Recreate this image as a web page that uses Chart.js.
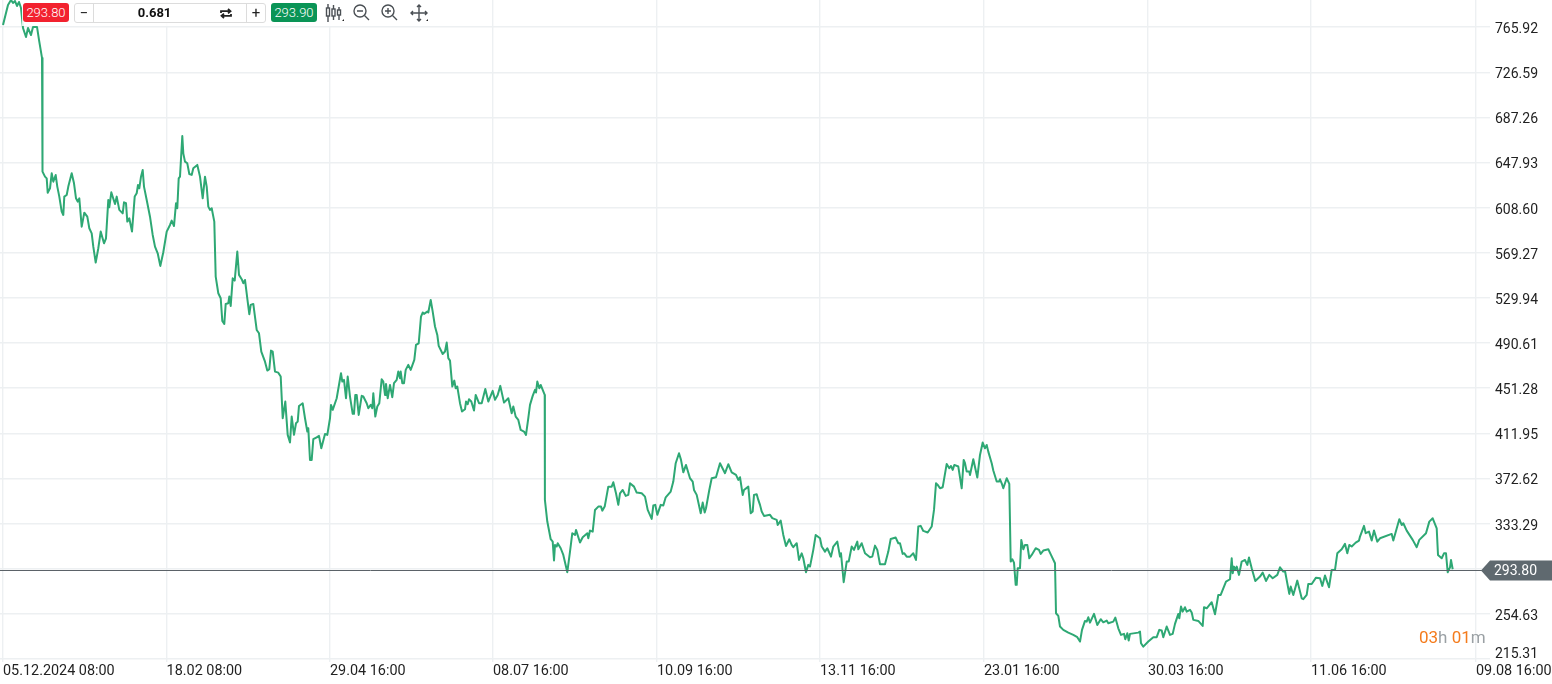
<!DOCTYPE html>
<html><head><meta charset="utf-8">
<script src="https://cdn.jsdelivr.net/npm/chart.js@4/dist/chart.umd.min.js"></script>
<style>
html,body{margin:0;padding:0;background:#fff;font-family:Roboto,sans-serif;overflow:hidden}
#wrap{position:relative;width:1552px;height:684px}
canvas{position:absolute;left:0;top:0}
#bar{position:absolute;left:22px;top:0;width:408px;height:26px;background:rgba(255,255,255,.85)}
.abs{position:absolute}
.btn{top:3px;height:19px;line-height:19px;width:46px;text-align:center;color:#fff;font-size:13px;font-weight:300;border-radius:3px}
#box{left:74px;top:3px;width:190px;height:18px;border:1px solid #dcdcdc;border-radius:3px;background:#fff}
.sep{top:0;width:1px;height:18px;background:#dcdcdc}
#timer{left:1419px;top:627px;font-size:17px;line-height:20px;color:#9aa0a4;white-space:nowrap}
#timer b{font-weight:400;color:#f47b1c}
</style></head><body>
<div id="wrap">
<canvas id="c" width="1552" height="684"></canvas>
<div id="bar" class="abs"></div>
<div class="abs btn" style="left:23px;background:#f2222f">293.80</div>
<div id="box" class="abs">
  <div class="abs sep" style="left:18px"></div>
  <div class="abs sep" style="left:171px"></div>
  <div class="abs" style="left:0;width:18px;top:0;line-height:18px;text-align:center;font-size:15px;color:#222">−</div>
  <div class="abs" style="left:20px;width:119px;top:0;line-height:18px;text-align:center;font-size:13px;font-weight:700;color:#111">0.681</div>
  <div class="abs" style="left:172px;width:18px;top:0;line-height:18px;text-align:center;font-size:15px;color:#222">+</div>
  <svg class="abs" style="left:145px;top:3px" width="12" height="13" viewBox="0 0 12 13" fill="none" stroke="#222" stroke-width="1.8"><path d="M1 6V4.2h9M8 2l2.5 2.2L8 6.4M11 7v1.8H2M4 6.6L1.5 8.8 4 11"/></svg>
</div>
<div class="abs btn" style="left:271px;background:#0a9456">293.90</div>
<svg class="abs" style="left:324px;top:2px" width="110" height="24" viewBox="0 0 110 24" fill="none" stroke="#4a4f54" stroke-width="1.4">
  <path d="M4 2v18M9.5 3v15M15 5v13"/><rect x="2.5" y="6" width="3" height="8" fill="#fff"/><rect x="8" y="7" width="3" height="7" fill="#fff"/><rect x="13.5" y="8" width="3" height="5" fill="#fff"/>
  <path d="M18 19h2v-2z" fill="#222" stroke="none"/>
  <circle cx="36" cy="9" r="6"/><path d="M40.5 13.5l4.5 4.5M33 9h6"/>
  <circle cx="64" cy="9" r="6"/><path d="M68.5 13.5l4.5 4.5M61 9h6M64 6v6"/>
  <path d="M95 3v16M87 11h16M93 5l2-2 2 2M93 17l2 2 2-2M89 9l-2 2 2 2M101 9l2 2-2 2"/>
  <path d="M102 19h2v-2z" fill="#222" stroke="none"/>
</svg>
<div id="timer" class="abs"><b>03</b>h <b>01</b>m</div>
</div>
<script>
const xTickBars = [0,163.6,327,490,654,817,981,1145,1308,1473];
const xTickLabels = ['05.12.2024 08:00','18.02 08:00','29.04 16:00','08.07 16:00','10.09 16:00','13.11 16:00','23.01 16:00','30.03 16:00','11.06 16:00','09.08 16:00'];
const yTicks = [215.31,254.63,293.96,333.29,372.62,411.95,451.28,490.61,529.94,569.27,608.60,647.93,687.26,726.59,765.92];
const lastPrice = 293.80;
const bars = [
0,3,5,8,10,12,14,16,18,20,
23,25,28,30,34,36,39,39.3,39.7,42,
43.7,44.7,47,48.7,50.3,52.7,54.3,56.3,58.7,60.3,
61.3,63.7,65.3,68.7,71,73,74.7,76.3,78.7,81.3,
84.3,86.3,88.7,90.3,92.7,95.3,97.7,101,103,105.3,
106.3,108.3,112,113.7,116.3,119.7,121,123,124.3,126.3,
129,131.7,133.7,135,136.3,138,139.7,141,143.7,147,
149.7,152,154.7,157.3,160.3,163.7,167,168.7,171,173,
174.3,175.7,177,179.3,180.3,182,184.3,186.3,188.7,190.3,
194.3,197,199.7,202,203.7,205.3,207,208.7,211.3,212.7,
215.3,217.7,219.3,221.3,222.7,225.3,226.3,227.7,229.7,231.7,
234.3,236,238.7,240.3,242,244.7,246.3,247.7,250.3,253.7,
256,258.3,262,264.3,266.3,268,269.7,272,275.3,277.7,
279.7,282.3,284.7,287,288.7,291,293,294.7,296,299.7,
302,304.3,305.3,307,308.7,310.3,313.7,316,318.3,322,
324.3,327,328,329.7,333.7,338,339.3,341,343,344.7,
347,349.7,351,352.3,353.7,355.7,358.7,360.3,363.7,365.3,
367.7,369.3,370.3,372.3,374.3,376.3,378.7,380.3,382,383,
384.7,387,389.3,391,393.7,395.3,397,397.7,399.3,401,
402.7,405.3,407.7,411.3,413,415.7,418,419.7,421,424.3,
425.3,427.7,429.7,432,434.3,435.7,439.7,442,443.7,445.3,
447,449.3,451.3,452.7,454.3,457,459,462,463,464.7,
466,468.3,471,472.7,476,478.7,482.3,485.3,489.7,492,
494.7,497.3,501,505.3,508.7,510.3,512.7,515.3,517.7,521,
523,525.3,527,529.7,532,533,534.3,536.3,537.7,541.7,
541.9,544.3,547.7,549.7,551,552,553.7,554.7,557.7,560.3,
564.3,567,569.3,572,573,577,579.7,584.3,585.3,587,
589.7,592,595.3,598,599.3,601.7,605.3,608.7,610.3,613,
615.3,617,619.7,622.7,625.3,627,631,633.7,638.7,642,
644.7,648.7,650.3,652.3,654.3,657.7,660.3,662.7,667.7,670.3,
672.7,676,678,680.3,683,687,689.7,691,693.7,697.7,
699.7,701.7,703,706.3,708.7,713,717,722,725.3,728.7,
733,735.3,737,739.7,741,745.3,747.7,749.7,751,753.7,
755.3,757,758.7,761,767,769.3,773.7,774.7,777.7,780.3,
783,786.3,788.7,790.3,793.7,796,798.7,800.3,803,805.3,
807,810.3,812.7,817,818.7,822,824.3,828,830.3,834.3,
837,838,840.7,843.7,845.7,848.7,851,854.3,855.3,858.7,
862,867,869.3,872,874.3,877,882,885.3,887.7,892.7,
895.3,897,899.7,901.3,903.7,907,910.3,913,915.3,917.7,
920.3,924.7,928.7,931,933,934.7,937,939.7,943.7,946.3,
948,949.7,951.3,955.3,958.7,960.7,962,963.7,966.3,967,
970.3,974.3,977,979.7,982,983.7,985.3,988.7,990.3,993.7,
996,997,998.7,1000.3,1003.7,1006.3,1007.7,1009.3,1011,1012.7,
1013.7,1014.7,1017,1018.3,1020.3,1022,1024.3,1026.3,1028.7,1032.7,
1036,1037.7,1040.3,1045.3,1048,1052,1053,1055.3,1057,1060.3,
1065.3,1070.3,1074.3,1077,1079,1082,1083.7,1085.3,1087,1091,
1094.3,1097.7,1100.3,1103.7,1105.3,1110.3,1112.3,1115.3,1118,1121,
1122.3,1124.3,1125.7,1127,1135.3,1137,1138,1140.3,1145.3,1150.3,
1153.7,1156.3,1158.7,1160.3,1163.7,1167,1169.7,1172,1175.3,1176.3,
1178,1179.7,1182,1183.7,1187,1188.7,1190.3,1195.3,1199.7,1201,
1203.7,1208.7,1212,1215.3,1217.7,1223,1227,1228.7,1229.7,1231,
1232,1233.7,1236,1238.7,1242,1244.3,1246,1248.7,1252.3,1257,
1259.7,1263,1266.3,1269.7,1274.3,1277,1280.3,1282,1286.3,1287.7,
1290.3,1294.3,1298.7,1300.3,1303.7,1305.3,1308.7,1313,1317,1319.3,
1322,1326,1328.7,1332,1334.3,1338.7,1342,1344.3,1346.3,1348.7,
1352.7,1356,1357,1361,1362.7,1366,1368.7,1371,1374.3,1377,
1388.7,1390.3,1396.3,1398.7,1400.3,1403.7,1409.7,1413.7,1416.3,1423,
1426.3,1429.7,1433.7,1435,1438.7,1441,1443,1444.7,1447,1448,
1449.7];
const prices = [
767.7,778.2,785.1,789.5,786.9,788.6,784.3,787.8,782.5,765.1,
757.3,765.1,759.0,766.0,766.0,754.7,739.0,687.9,640.0,635.6,
634.1,621.6,625.4,638.5,631.2,637.0,626.9,618.2,605.1,602.2,
618.2,619.6,626.9,638.5,629.8,616.7,613.8,616.7,592.0,604.2,
600.7,590.6,586.2,574.6,560.7,573.2,587.7,577.5,581.9,615.3,
608.9,621.9,611.8,618.2,606.6,603.6,613.2,612.4,596.4,599.3,
587.7,618.2,621.1,628.3,625.4,635.6,641.4,626.9,615.3,600.7,
584.8,574.6,568.8,557.8,569.7,587.7,593.5,597.3,592.6,612.4,
608.0,634.1,635.6,671.0,655.9,648.7,647.2,637.9,637.1,642.9,
645.8,635.6,616.7,635.6,626.9,609.5,606.6,608.0,596.4,548.5,
534.0,529.6,509.9,507.2,524.7,525.3,531.1,522.9,547.0,545.0,
570.3,550.0,546.2,542.7,545.6,526.7,515.7,523.8,524.7,502.0,
499.1,483.1,474.4,466.6,467.8,484.0,483.1,465.7,464.8,461.4,
425.1,439.6,410.6,403.9,426.5,410.6,420.7,422.2,435.8,438.1,
425.1,413.5,416.4,388.8,388.8,406.8,408.5,409.7,398.9,411.4,
410.6,425.1,436.7,432.4,442.5,464.3,457.0,458.5,442.5,461.4,
444.0,428.9,428.9,445.4,445.4,428.0,444.6,444.0,438.2,433.8,
436.7,433.8,446.9,426.5,435.3,438.2,459.1,457.0,445.4,455.0,
442.5,454.1,443.4,455.6,458.5,465.8,459.9,465.8,455.6,455.6,
467.2,471.6,467.2,475.9,489.0,490.4,513.7,517.2,516.0,518.0,
517.2,528.2,518.0,505.0,497.7,488.1,481.1,483.2,491.0,477.4,
475.3,452.7,457.9,451.2,452.7,438.2,430.9,432.9,439.6,437.3,
441.6,439.6,431.8,445.4,438.2,438.2,450.6,439.6,448.9,441.1,
445.4,453.3,438.7,442.5,429.5,435.3,426.5,423.6,414.9,413.5,
410.6,425.1,436.7,444.6,449.8,447.5,457.0,451.2,454.1,445.4,
353.9,335.1,319.7,317.6,301.1,314.7,313.3,316.2,311.8,306.0,
290.9,308.9,324.9,323.4,327.8,316.8,321.4,324.9,320.5,327.2,
326.3,345.2,348.1,348.1,344.6,348.1,365.5,365.5,369.3,359.7,
349.6,359.7,362.6,357.4,358.3,368.4,365.5,360.3,359.7,356.8,
345.2,337.4,349.0,349.6,340.9,349.6,349.0,356.2,361.2,369.9,
385.9,394.6,388.8,378.0,384.4,372.8,369.9,362.6,358.3,342.3,
351.6,342.9,346.7,362.6,372.8,373.7,385.9,377.2,385.0,378.0,
375.7,371.4,373.7,358.3,362.6,365.5,342.3,343.8,358.3,358.9,
353.9,349.6,343.8,340.0,340.9,338.0,336.5,332.1,335.9,323.4,
313.8,319.6,314.7,312.7,316.2,301.6,307.4,303.1,290.9,297.3,
295.8,310.4,323.4,320.5,313.3,308.9,311.8,304.5,313.3,317.6,
304.5,307.4,282.2,300.2,300.2,313.3,310.4,317.6,310.9,316.2,
307.4,304.0,304.5,314.1,310.4,297.9,297.9,308.9,319.9,321.1,
316.2,316.2,306.9,307.4,304.5,304.5,307.4,301.6,330.7,331.3,
326.9,325.5,330.7,345.2,368.4,367.0,364.1,365.0,385.3,381.5,
383.5,380.1,384.4,383.0,364.1,388.8,385.9,378.6,378.6,375.7,
389.3,373.4,393.1,403.9,398.9,401.8,396.0,385.9,379.5,369.9,
369.9,371.9,368.4,364.1,372.8,367.9,300.2,302.2,299.3,279.9,
279.9,294.4,294.4,319.1,310.9,314.7,314.7,303.1,306.0,311.8,
310.4,306.9,309.8,310.9,306.0,298.7,255.2,252.9,243.6,240.7,
238.3,236.3,234.3,230.5,240.7,248.5,247.9,251.7,247.0,254.6,
245.0,250.0,247.3,248.8,246.5,247.9,251.4,242.1,236.3,237.2,
232.5,237.8,231.4,237.2,238.3,239.2,229.0,226.1,230.5,234.3,
234.3,240.7,240.1,234.3,243.6,236.3,237.2,245.9,254.6,250.8,
261.0,256.6,260.4,256.6,258.1,255.8,249.4,248.5,244.1,260.4,
259.5,264.8,254.3,271.1,271.1,282.8,284.8,303.1,290.0,295.8,
292.9,295.8,288.6,300.2,301.6,297.3,303.7,294.4,283.3,287.1,
290.6,283.3,288.6,285.7,288.6,295.2,291.5,292.0,272.0,278.4,
271.1,283.6,268.2,267.4,271.1,280.7,280.7,286.2,285.7,279.0,
288.0,277.8,292.9,292.9,307.4,310.9,315.6,307.4,314.7,313.3,
316.7,318.5,322.0,331.3,324.9,326.3,318.5,327.2,317.6,320.5,
324.3,318.5,337.1,332.1,333.6,327.2,319.1,312.7,319.1,324.9,
335.0,337.9,329.2,306.0,303.1,307.4,307.4,290.9,295.2,301.6,
293.5];

const priceTag = {
  id:'priceTag',
  afterDraw(chart){
    const {ctx, scales:{y}} = chart;
    const py = Math.round(y.getPixelForValue(lastPrice))+1.5;
    ctx.save();
    ctx.strokeStyle='#5b6268'; ctx.lineWidth=1;
    ctx.beginPath(); ctx.moveTo(0,py); ctx.lineTo(1482,py); ctx.stroke();
    ctx.fillStyle='#5f696f';
    ctx.beginPath(); ctx.moveTo(1481,py); ctx.lineTo(1490,py-10); ctx.lineTo(1552,py-10); ctx.lineTo(1552,py+10); ctx.lineTo(1490,py+10); ctx.closePath(); ctx.fill();
    ctx.fillStyle='#fff'; ctx.font='14px Roboto'; ctx.textBaseline='middle'; ctx.textAlign='left';
    ctx.fillText(lastPrice.toFixed(2),1494,py+0.5);
    ctx.restore();
  }
};

new Chart(document.getElementById('c'),{
  type:'line',
  data:{datasets:[{
    data:bars.map((b,i)=>({x:b,y:prices[i]})),
    borderColor:'#2ea874',borderWidth:2,pointRadius:0,tension:0,fill:false,borderJoinStyle:'round'
  }]},
  options:{
    responsive:false,animation:false,devicePixelRatio:1,
    layout:{padding:0},
    plugins:{legend:{display:false},tooltip:{enabled:false}},
    scales:{
      x:{type:'linear',min:-3,max:1473,position:'bottom',
        afterBuildTicks(s){s.ticks=xTickBars.map(v=>({value:v}));},
        afterFit(s){s.height=25;s.paddingLeft=0;s.paddingRight=0;},
        grid:{color:'#edf0f2',lineWidth:1.4,tickLength:3,drawTicks:true},
        border:{display:false},
        ticks:{autoSkip:false,maxRotation:0,minRotation:0,align:'start',padding:1,color:'#222',font:{family:'Roboto',size:14.4},
          callback(v){const i=xTickBars.indexOf(v);return i<0?'':xTickLabels[i];}}
      },
      y:{type:'linear',position:'right',min:215.31,max:789.5,
        afterBuildTicks(s){s.ticks=yTicks.map(v=>({value:v}));},
        afterFit(s){s.width=76;s.paddingTop=0;s.paddingBottom=0;},
        afterUpdate(s){
          if(s._labelShiftDone) return;
          s._labelShiftDone=true;
          const orig=s._computeLabelItems;
          s._computeLabelItems=function(a){
            const items=orig.call(this,a);
            items.forEach(it=>{it.textOffset+=(it.label==='215.31')?-4.5:2.5;});
            return items;
          };
        },
        grid:{color:'#edf0f2',lineWidth:1.4,tickLength:14,drawTicks:true},
        border:{display:false},
        ticks:{autoSkip:false,padding:5,color:'#222',font:{family:'Roboto',size:14},
          callback(v){
            if(v===293.96) return '';
            return v.toFixed(2);
          }}
      }
    }
  },
  plugins:[priceTag]
});
</script>
</body></html>
